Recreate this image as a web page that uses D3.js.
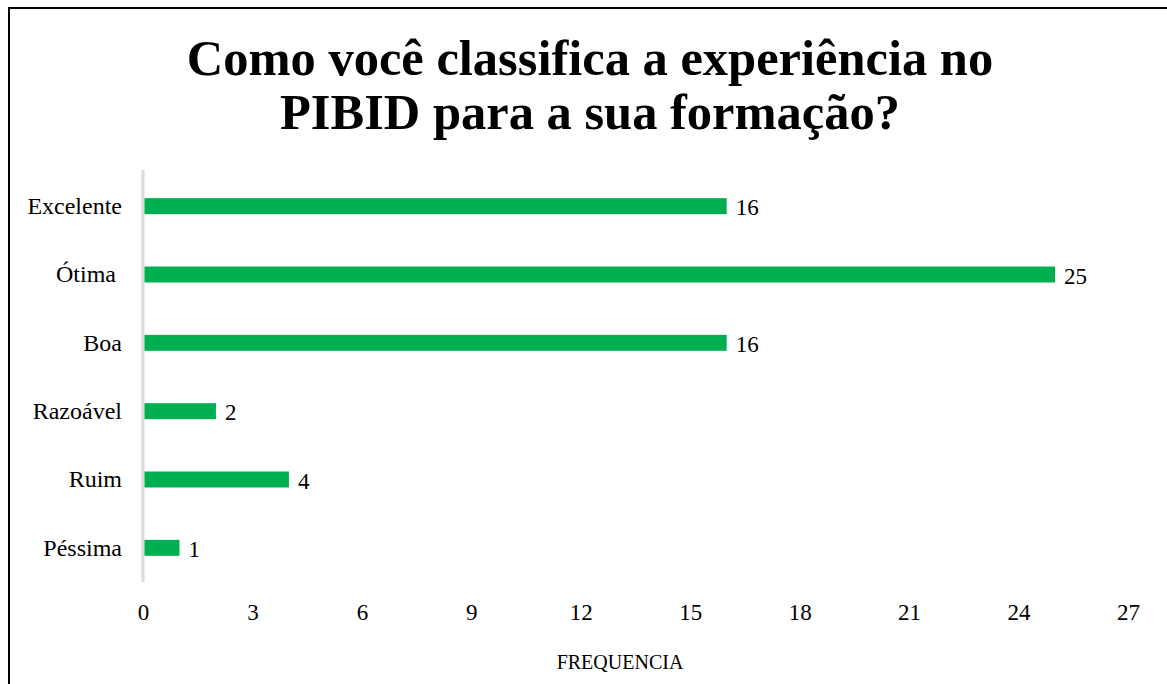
<script src="https://d3js.org/d3.v7.min.js"></script>
<style>
  body { margin: 0; background: #fff; }
  text { font-family: "Liberation Serif", "Times New Roman", serif; fill: #000; }
</style>
<svg id="chart" width="1167" height="684"></svg>
<script>
const categories = ['Excelente', 'Ótima ', 'Boa', 'Razoável', 'Ruim', 'Péssima'];
const values = [16, 25, 16, 2, 4, 1];
const xTicks = [0, 3, 6, 9, 12, 15, 18, 21, 24, 27];

const svg = d3.select('#chart');
const W = 1167, H = 684;
const margin = { top: 172, right: 40, bottom: 102, left: 143 };
const innerW = 1128 - margin.left;
const innerH = H - margin.top - margin.bottom;

// chart border (runs off right/bottom like the source crop)
svg.append('rect')
  .attr('x', 9).attr('y', 8)
  .attr('width', W + 20).attr('height', H + 20)
  .attr('fill', 'none').attr('stroke', '#000').attr('stroke-width', 2);

svg.append('text')
  .attr('x', 590).attr('y', 75)
  .attr('text-anchor', 'middle')
  .style('font-size', '50.5px').style('font-weight', 'bold')
  .text('Como você classifica a experiência no');
svg.append('text')
  .attr('x', 590).attr('y', 129)
  .attr('text-anchor', 'middle')
  .style('font-size', '50.5px').style('font-weight', 'bold')
  .text('PIBID para a sua formação?');

const g = svg.append('g').attr('transform', `translate(${margin.left},${margin.top})`);

const x = d3.scaleLinear().domain([0, 27]).range([0, innerW]);
const y = d3.scaleBand().domain(categories).range([0, innerH]).paddingInner(0.766).paddingOuter(0.383);

const xAxis = g.append('g')
  .attr('transform', `translate(0,${innerH})`)
  .call(d3.axisBottom(x).tickValues(xTicks).tickSize(0).tickPadding(22));
xAxis.select('.domain').remove();
xAxis.selectAll('text').style('font-size', '23px').style('font-family', '"Liberation Serif", serif');

const yAxis = g.append('g')
  .call(d3.axisLeft(y).tickSize(0).tickPadding(21));
yAxis.select('.domain').attr('stroke', '#d9d9d9').attr('stroke-width', 3).attr('d', `M0,-2V${innerH}`);
yAxis.selectAll('text').style('font-size', '24px').style('font-family', '"Liberation Serif", serif').style('white-space', 'pre');

g.selectAll('.bar')
  .data(categories)
  .enter().append('rect')
  .attr('class', 'bar')
  .attr('x', x(0) + 1.5)
  .attr('y', d => y(d))
  .attr('width', (d, i) => x(values[i]) - 1.5)
  .attr('height', y.bandwidth())
  .attr('fill', '#00b050');

g.selectAll('.lbl')
  .data(categories)
  .enter().append('text')
  .attr('class', 'lbl')
  .attr('x', (d, i) => x(values[i]) + 9)
  .attr('y', d => y(d) + y.bandwidth() / 2 + 9)
  .style('font-size', '23px')
  .text((d, i) => values[i]);

svg.append('text')
  .attr('x', 620).attr('y', 669)
  .attr('text-anchor', 'middle')
  .style('font-size', '20px')
  .text('FREQUENCIA');
</script>
